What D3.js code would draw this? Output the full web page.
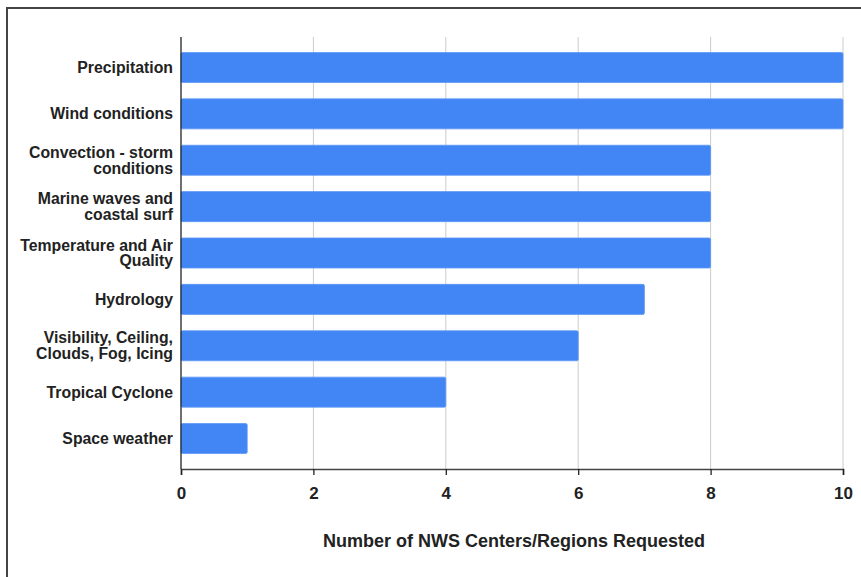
<!DOCTYPE html>
<html>
<head>
<meta charset="utf-8">
<script src="https://cdn.jsdelivr.net/npm/d3@7"></script>
<style>
  html, body { margin: 0; padding: 0; background: #fff; }
  svg { display: block; font-family: "Liberation Sans", Arial, sans-serif; }
</style>
</head>
<body>
<svg id="chart" width="861" height="577"></svg>
<script>
// categories, top to bottom (\n = line break in the label)
const categories = [
  'Precipitation',
  'Wind conditions',
  'Convection - storm\nconditions',
  'Marine waves and\ncoastal surf',
  'Temperature and Air\nQuality',
  'Hydrology',
  'Visibility, Ceiling,\nClouds, Fog, Icing',
  'Tropical Cyclone',
  'Space weather'
];
const counts = [10, 10, 8, 8, 8, 7, 6, 4, 1];
const xTicks = [0, 2, 4, 6, 8, 10];
const xTitle = 'Number of NWS Centers/Regions Requested';

const svg = d3.select('#chart');
const plotL = 181, plotR = 843, plotT = 37, plotB = 469;

// frame (only top and left edges visible in the crop)
svg.append('path')
  .attr('d', `M7,577 V8 H861`)
  .attr('fill', 'none').attr('stroke', '#444').attr('stroke-width', 2);

const x = d3.scaleLinear().domain([0, 10]).range([plotL, plotR]);
const y = d3.scaleBand().domain(categories).range([plotT, plotB])
  .paddingInner(0.353).paddingOuter(0.334);

// gridlines
svg.append('g').selectAll('line').data(xTicks.filter(d => d > 0)).join('line')
  .attr('x1', d => x(d)).attr('x2', d => x(d))
  .attr('y1', plotT).attr('y2', plotB)
  .attr('stroke', '#ccc').attr('stroke-width', 1);

// bars
svg.append('g').selectAll('rect').data(counts).join('rect')
  .attr('x', x(0))
  .attr('y', (d, i) => y(categories[i]))
  .attr('width', d => x(d) - x(0))
  .attr('height', y.bandwidth())
  .attr('rx', 1.5)
  .attr('fill', '#4285f4')
  .attr('stroke', '#5e97f6').attr('stroke-width', 0.8);

// x axis
const xAxis = svg.append('g')
  .attr('transform', `translate(0,${plotB})`)
  .call(d3.axisBottom(x).tickValues(xTicks).tickSize(6).tickPadding(12));
xAxis.select('.domain').attr('stroke', '#444').attr('stroke-width', 1.6);
xAxis.selectAll('.tick line').attr('stroke', '#222').attr('stroke-width', 1.3);
xAxis.selectAll('.tick text')
  .attr('font-family', '"Liberation Sans", Arial, sans-serif')
  .attr('font-size', 17).attr('font-weight', 'bold').attr('fill', '#222');

// y axis line
svg.append('line')
  .attr('x1', plotL).attr('x2', plotL).attr('y1', plotT).attr('y2', plotB)
  .attr('stroke', '#222').attr('stroke-width', 1.3);

// category labels
svg.append('g').selectAll('text').data(categories).join('text')
  .attr('text-anchor', 'end')
  .attr('font-size', 15.8).attr('font-weight', 'bold').attr('fill', '#222')
  .each(function (d) {
    const lines = d.split('\n');
    const cy = y(d) + y.bandwidth() / 2;
    const lh = 15.7;
    const t = d3.select(this);
    lines.forEach((ln, k) => {
      t.append('tspan')
        .attr('x', 173)
        .attr('y', cy + (k - (lines.length - 1) / 2) * lh)
        .attr('dy', '0.35em')
        .text(ln);
    });
  });

// x title
svg.append('text')
  .attr('x', (plotL + plotR) / 2 + 2).attr('y', 541).attr('dy', '0.35em')
  .attr('text-anchor', 'middle')
  .attr('font-size', 18).attr('font-weight', 'bold').attr('fill', '#222')
  .text(xTitle);
</script>
</body>
</html>
